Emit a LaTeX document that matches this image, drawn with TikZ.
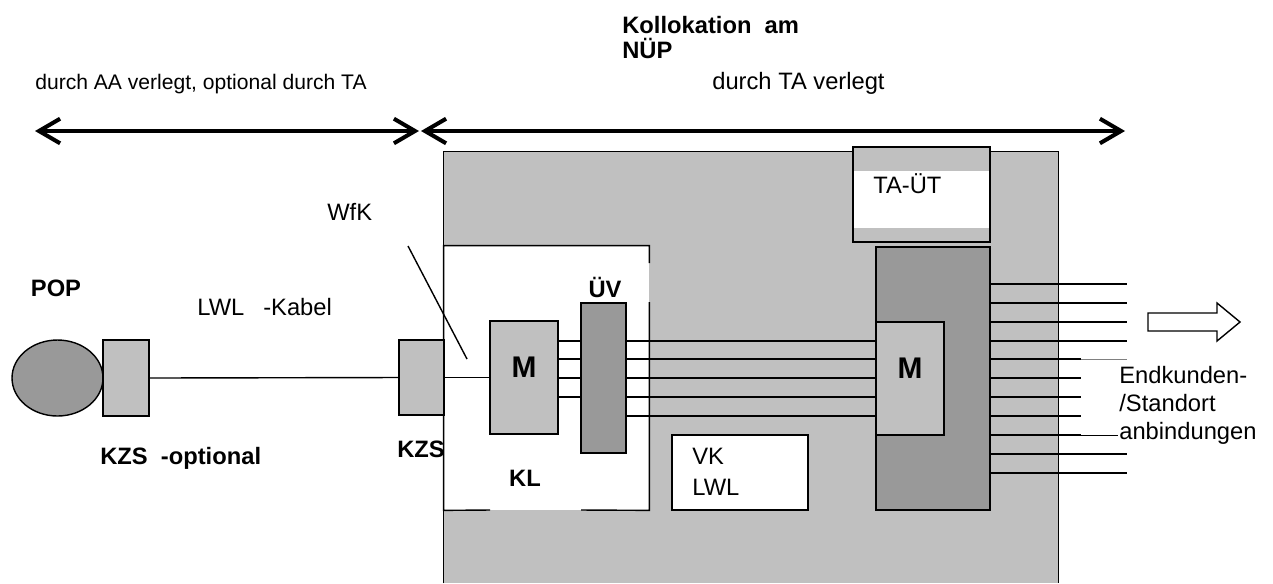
\documentclass[tikz,border=0pt]{standalone}
\usepackage{fontspec}
\setmainfont{Liberation Sans}
\usepackage{xcolor}
\usetikzlibrary{arrows.meta,fit,shapes.geometric}
\definecolor{ktgray}{RGB}{192,192,192}
\definecolor{ktdark}{RGB}{153,153,153}

\begin{document}
\begin{tikzpicture}[x=0.02cm, y=-0.02cm,
  box/.style={rectangle, draw=black, line width=0.8pt, inner sep=0pt},
  mbox/.style={box, fill=ktgray, font=\fontsize{17}{20}\selectfont\bfseries},
  lbl/.style={font=\fontsize{13.5}{16}\selectfont, inner sep=0pt, anchor=west},
  blbl/.style={font=\fontsize{13.5}{16}\selectfont\bfseries, inner sep=0pt},
  wire/.style={line width=0.8pt},
  spanarrow/.style={line width=2.3pt,
    {Straight Barb[length=12pt,width=14pt]}-{Straight Barb[length=12pt,width=14pt]}}]
\useasboundingbox (0,0) rectangle (1273,583);

% Kollokationsraum
\node[fit={(444,152) (1058,583)}, inner sep=0pt, fill=ktgray] (nup) {};
\draw[wire] (nup.south west) -- (nup.north west) -- (nup.north east) -- (nup.south east);
\node[fit={(853,147) (990,242)}, box, fill=ktgray] (taut) {};
\fill[white] (854,171) rectangle (989,228);
\node[lbl] (tautlbl) at (873,184) {TA-ÜT};
\node[fit={(876,247) (990,510)}, box, fill=ktdark] (vert) {};
\node[fit={(876,322) (944,435)}, mbox] (mR) {M};
\node[fit={(672,435) (808,510)}, box, fill=white] (vk) {};
\node[lbl, align=left, font=\fontsize{13.5}{17.6}\selectfont] (vklbl) at (692,472) {VK\\LWL};

% KL mit Luecken im Rahmen
\node[fit={(444,246) (649,510)}, inner sep=0pt, fill=white] (kl) {};
\draw[wire] (kl.east |- 0,263) -- (kl.north east) -- (kl.north west) -- (kl.south west) -- (490,510);
\draw[wire] (kl.east |- 0,302) -- (kl.south east) -- (581,510);
\node[blbl] (kllbl) at (525,478) {KL};
\node[fit={(490,321) (558,434)}, mbox] (mL) {M};
\node[fit={(581,303) (626,453)}, box, fill=ktdark] (uv) {};
\node[blbl] (uvlbl) at (605,287) {ÜV};

% POP und KZS
\node[ellipse, draw=black, line width=0.8pt, fill=ktdark, minimum width=1.82cm,
      minimum height=1.52cm, inner sep=0pt] (pop) at (57.5,378) {};
\node[fit={(103,340) (149,416)}, box, fill=ktgray] (kzsL) {};
\node[fit={(399,340) (444,415)}, box, fill=ktgray] (kzsR) {};
\node[blbl] (poplbl) at (56,288) {POP};
\node[lbl] (kabel) at (197,307) {LWL\hspace{0.8em}-Kabel};
\node[blbl, anchor=west] (kzsopt) at (100,458) {KZS\ \ -optional};
\node[blbl, anchor=west] (kzslbl) at (397,449) {KZS};
\node[lbl] (wfk) at (327,212) {WfK};

% Fasern
\draw[wire] (kzsL.east) -- (kzsR.west);
\draw[wire] (kzsR.east) -- (mL.west);
\foreach \y in {341,359,378,397}
  \draw[wire] (mL.east |- 0,\y) -- (uv.west |- 0,\y);
\foreach \y in {341,359,378,397,416}
  \draw[wire] (uv.east |- 0,\y) -- (mR.west |- 0,\y);
\coordinate (endlong) at (1127,0);
\coordinate (endshort) at (1081,0);
\foreach \y in {284,303,322,341,454,473}
  \draw[wire] (vert.east |- 0,\y) -- (endlong |- 0,\y);
\foreach \y in {359,378,397,416,435}
  \draw[wire] (vert.east |- 0,\y) -- (endshort |- 0,\y);
\draw[gray, line width=0.4pt] (endshort |- 0,359) -- (endlong |- 0,359);
\draw[line width=0.5pt] (endshort |- 0,435) -- (1118,435);
\coordinate (wfkA) at (408,246);
\coordinate (wfkB) at (467,359);
\draw[wire] (wfkA) -- (wfkB);

% Ausgang
\draw[wire, fill=white] (1148,313) -- (1217,313) -- (1217,303) -- (1240,322)
  -- (1217,341) -- (1217,331) -- (1148,331) -- cycle;
\node[lbl, align=left, font=\fontsize{13.5}{15.9}\selectfont] (endk) at (1119,405)
  {Endkunden-\\/Standort\\anbindungen};

% Zustaendigkeiten
\node[lbl, font=\fontsize{12}{14}\selectfont] (aa) at (35,84) {durch AA verlegt, optional durch TA};
\node[lbl] (ta) at (712,83) {durch TA verlegt};
\node[blbl, anchor=west, align=left, font=\fontsize{13.5}{14.2}\selectfont\bfseries] (koll) at (622,37.5)
  {Kollokation\ \ am\\NÜP};
\coordinate (aaL) at (35,131);
\coordinate (aaR) at (419,131);
\coordinate (taL) at (421,131);
\coordinate (taR) at (1125,131);
\draw[spanarrow] (aaL) -- (aaR);
\draw[spanarrow] (taL) -- (taR);
\end{tikzpicture}
\end{document}
